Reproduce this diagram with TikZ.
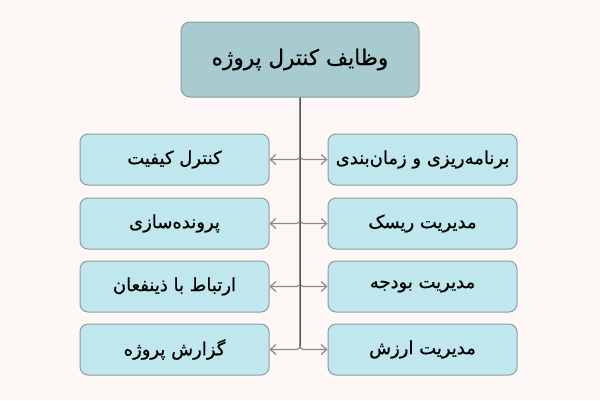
\documentclass[tikz,border=0pt]{standalone}
\usepackage{fontspec}
\newfontface\fa[Script=Arabic,FakeBold=0.7]{DejaVu Sans}
\TeXXeTstate=1
\usetikzlibrary{arrows.meta}
\definecolor{bgc}{HTML}{FDF7F5}
\definecolor{boxfill}{HTML}{C0E7ED}
\definecolor{titlefill}{HTML}{A8CBD0}
\definecolor{boxline}{HTML}{8E9C9F}
\definecolor{branchc}{HTML}{8A8A8A}
\definecolor{trunkc}{HTML}{505050}
\tikzset{
  titlebox/.style={draw=boxline, line width=1pt, fill=titlefill, rounded corners=9pt,
    minimum width=238pt, minimum height=75pt, inner sep=0pt,
    font=\fa\fontsize{21.5}{25}\selectfont, text=black},
  itembox/.style={draw=boxline, line width=1pt, fill=boxfill, rounded corners=8pt,
    minimum width=189pt, minimum height=51pt, inner sep=0pt,
    font=\fa\fontsize{18}{22}\selectfont, text=black},
  branch/.style={draw=branchc, line width=1.2pt, rounded corners=3.5pt,
    -{Straight Barb[length=5.5pt,width=10pt]}},
  trunk/.style={draw=trunkc, line width=1pt}
}
\begin{document}
\begin{tikzpicture}[x=1pt,y=-1pt]
\fill[bgc] (0,0) rectangle (600,400);
\useasboundingbox (0,0) rectangle (600,400);
\node[titlebox] (t) at (300,59.5) {\beginR وظایف کنترل پروژه\endR};
\node[itembox] (r1) at (422.5,159.5) {\beginR برنامه‌ریزی و زمان‌بندی\endR};
\node[itembox] (r2) at (422.5,223.5) {\beginR مدیریت ریسک\endR};
\node[itembox] (r3) at (422.5,286.5) {\beginR مدیریت بودجه\endR};
\node[itembox] (r4) at (422.5,349.5) {\beginR مدیریت ارزش\endR};
\node[itembox] (l1) at (174.5,159.5) {\beginR کنترل کیفیت\endR};
\node[itembox] (l2) at (174.5,223.5) {\beginR پرونده‌سازی\endR};
\node[itembox] (l3) at (174.5,286.5) {\beginR ارتباط با ذینفعان\endR};
\node[itembox] (l4) at (174.5,349.5) {\beginR گزارش پروژه\endR};
\foreach \b in {l1,l2,l3,l4,r1,r2,r3,r4}{
  \draw[branch] (t.south) |- (\b);
}
\coordinate (tend) at ([yshift=4pt]t.south |- l4.east);
\draw[trunk] (t.south) -- (tend);
\end{tikzpicture}
\end{document}
